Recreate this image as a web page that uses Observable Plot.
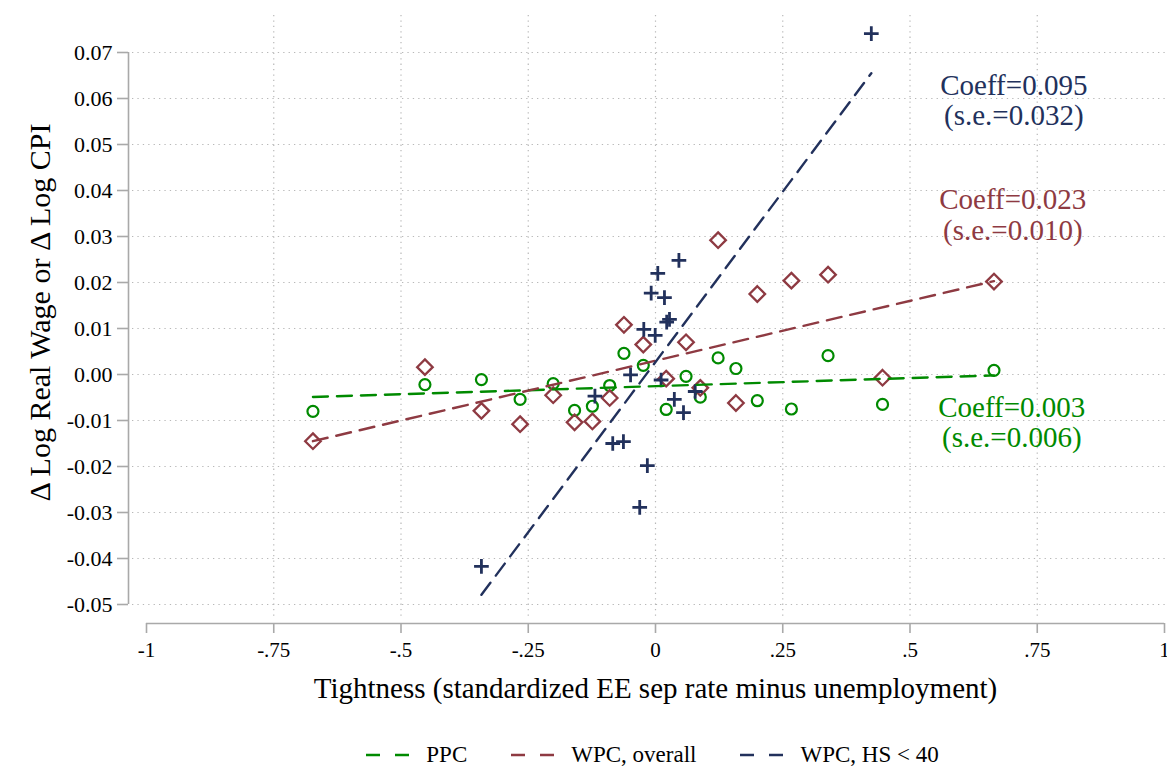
<!DOCTYPE html>
<html>
<head>
<meta charset="utf-8">
<script src="https://cdn.jsdelivr.net/npm/d3@7"></script>
<script src="https://cdn.jsdelivr.net/npm/@observablehq/plot@0.6"></script>
<style>
  html, body { margin: 0; padding: 0; background: #fff; }
  #wrap { position: relative; width: 1167px; height: 766px; font-family: "Liberation Serif", serif; }
  #legend { position: absolute; top: 740px; left: 128px; width: 1049px; height: 30px;
    display: flex; justify-content: center; align-items: center; gap: 44px;
    font-family: "Liberation Serif", serif; font-size: 23px; color: #000; }
  .item { display: flex; align-items: center; gap: 17px; }
</style>
</head>
<body>
<div id="wrap"><div id="chart"></div><div id="legend"></div></div>
<script>
// ---- data ----
const binX = [-0.673, -0.453, -0.342, -0.266, -0.201, -0.159, -0.124, -0.090, -0.062, -0.024,
               0.021, 0.060, 0.088, 0.123, 0.158, 0.200, 0.267, 0.339, 0.446, 0.665];
const ppcY = [-0.0080, -0.0022, -0.0011, -0.0054, -0.0020, -0.0078, -0.0069, -0.0024, 0.0046, 0.0020,
              -0.0076, -0.0004, -0.0049, 0.0036, 0.0013, -0.0057, -0.0075, 0.0041, -0.0065, 0.0009];
const wpcY = [-0.0145, 0.0016, -0.0079, -0.0108, -0.0045, -0.0104, -0.0102, -0.0051, 0.0108, 0.0065,
              -0.0009, 0.0070, -0.0029, 0.0292, -0.0062, 0.0175, 0.0204, 0.0217, -0.0007, 0.0202];
const hsX = [-0.342, -0.119, -0.084, -0.063, -0.049, -0.031, -0.023, -0.016, -0.0085, -0.0006,
              0.0045, 0.011, 0.0176, 0.022, 0.0275, 0.037, 0.046, 0.055, 0.078, 0.424];
const hsY = [-0.0417, -0.0047, -0.0150, -0.0146, -0.0001, -0.0289, 0.0098, -0.0198, 0.0177, 0.0085,
              0.0220, -0.0012, 0.0167, 0.0114, 0.0120, -0.0054, 0.0248, -0.0083, -0.0037, 0.0741];

// fitted lines (endpoints)
const fitPPCx = [-0.673, 0.665], fitPPCy = [-0.0049, -0.0002];
const fitWPCx = [-0.673, 0.665], fitWPCy = [-0.0145, 0.0203];
const fitHSx  = [-0.342, 0.424], fitHSy  = [-0.0479, 0.0655];

const seriesNames = ["PPC", "WPC, overall", "WPC, HS < 40"];
const coeffText = ["Coeff=0.003\n(s.e.=0.006)", "Coeff=0.023\n(s.e.=0.010)", "Coeff=0.095\n(s.e.=0.032)"];
const coeffX = [0.700, 0.702, 0.704];
const coeffY = [-0.0104, 0.0347, 0.0596];

const xTicks = [-1, -0.75, -0.5, -0.25, 0, 0.25, 0.5, 0.75, 1];
const xTickLabels = ["-1", "-.75", "-.5", "-.25", "0", ".25", ".5", ".75", "1"];
const xGrid = [-0.75, -0.5, -0.25, 0, 0.25, 0.5, 0.75];
const yTicks = [-0.05, -0.04, -0.03, -0.02, -0.01, 0, 0.01, 0.02, 0.03, 0.04, 0.05, 0.06, 0.07];
const xTitle = "Tightness (standardized EE sep rate minus unemployment)";
const yTitle = "\u0394 Log Real Wage or \u0394 Log CPI";

// ---- styles ----
const colors = ["#008a00", "#8e3a42", "#22315c"];
const axisGrey = "#a9a9a9";
const dash = "15,9";

const ppc = binX.map((x, i) => ({x, y: ppcY[i]}));
const wpc = binX.map((x, i) => ({x, y: wpcY[i]}));
const hs = hsX.map((x, i) => ({x, y: hsY[i]}));
const fit = (xs, ys) => xs.map((x, i) => ({x, y: ys[i]}));
const annos = coeffText.map((t, i) => ({t, x: coeffX[i], y: coeffY[i], c: colors[i]}));
const xLab = new Map(xTicks.map((d, i) => [d, xTickLabels[i]]));

const chart = Plot.plot({
  width: 1167,
  height: 730,
  marginLeft: 146,
  marginRight: 3,
  marginTop: 52,
  marginBottom: 126,
  x: {domain: [-1, 1]},
  y: {domain: [-0.05, 0.07]},
  style: {fontFamily: "Liberation Serif", background: "white", color: "black"},
  marks: [
    Plot.ruleY(yTicks, {stroke: "#b8b8b8", strokeWidth: 1.2, strokeDasharray: "1.3,4.1", insetLeft: -14, insetRight: -3}),
    Plot.ruleX(xGrid, {stroke: "#b8b8b8", strokeWidth: 1.2, strokeDasharray: "1.3,4.1", insetTop: -37, insetBottom: -13}),
    Plot.ruleX([-1], {y1: -0.05, y2: 0.07, dx: -18, stroke: axisGrey, strokeWidth: 1.6}),
    Plot.ruleY([-0.05], {x1: -1, x2: 1, dy: 19, stroke: axisGrey, strokeWidth: 1.6}),
    Plot.axisY(yTicks, {tickSize: 11, dx: -18, tickPadding: 5, tickFormat: d => d.toFixed(2),
      fontSize: 22, stroke: axisGrey, strokeWidth: 1.6, fill: "black", label: null}),
    Plot.axisX(xTicks, {tickSize: 10, dy: 19, tickPadding: 9, tickFormat: d => xLab.get(d),
      fontSize: 21, stroke: axisGrey, strokeWidth: 1.6, fill: "black", label: null}),
    Plot.dot(ppc, {x: "x", y: "y", symbol: "circle", r: 5.5, stroke: colors[0], strokeWidth: 2.2, fill: "none"}),
    Plot.dot(wpc, {x: "x", y: "y", symbol: "diamond2", r: 7, stroke: colors[1], strokeWidth: 2.3, fill: "none"}),
    Plot.dot(hs, {x: "x", y: "y", symbol: "plus", r: 4.8, stroke: colors[2], strokeWidth: 2.8}),
    Plot.line(fit(fitPPCx, fitPPCy), {x: "x", y: "y", stroke: colors[0], strokeWidth: 2.4, strokeDasharray: dash}),
    Plot.line(fit(fitWPCx, fitWPCy), {x: "x", y: "y", stroke: colors[1], strokeWidth: 2.4, strokeDasharray: dash}),
    Plot.line(fit(fitHSx, fitHSy), {x: "x", y: "y", stroke: colors[2], strokeWidth: 2.4, strokeDasharray: dash}),
    Plot.text(annos, {x: "x", y: "y", text: "t", fill: "c", fontSize: 29, lineHeight: 1.04}),
    Plot.text([xTitle], {frameAnchor: "bottom", dy: 84, fontSize: 29, lineAnchor: "middle"}),
    Plot.text([yTitle], {frameAnchor: "left", dx: -106, dy: -16, rotate: -90, fontSize: 30,
      textAnchor: "middle", lineAnchor: "middle"})
  ]
});
document.getElementById("chart").appendChild(chart);

// legend
const legend = document.getElementById("legend");
seriesNames.forEach((name, i) => {
  const item = document.createElement("div");
  item.className = "item";
  item.innerHTML = `<svg width="43" height="6"><line x1="0" y1="3" x2="43" y2="3" stroke="${colors[i]}" stroke-width="2.6" stroke-dasharray="14,15"/></svg>`;
  const s = document.createElement("span");
  s.textContent = name;
  item.appendChild(s);
  legend.appendChild(item);
});
</script>
</body>
</html>
